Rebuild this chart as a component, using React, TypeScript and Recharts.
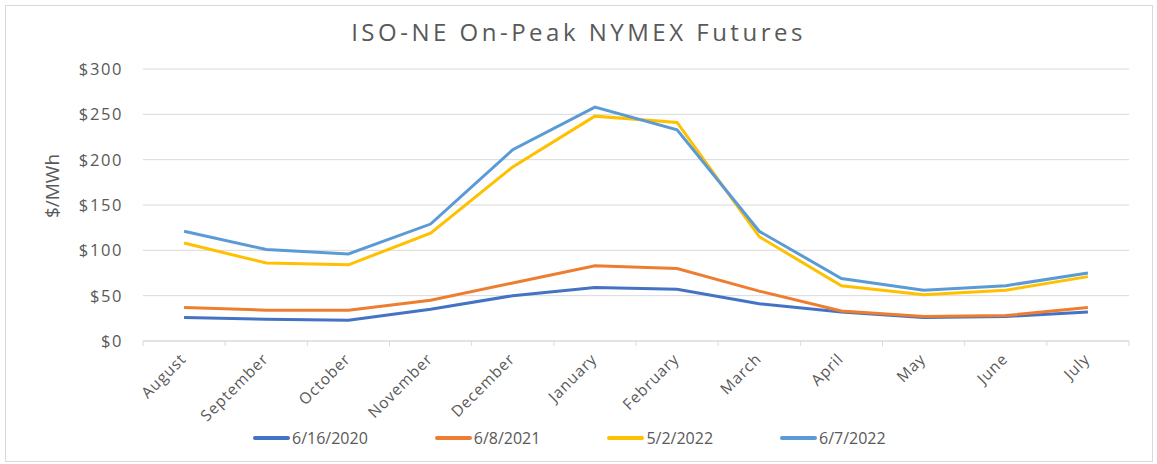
import React from "react";
import { LineChart, Line, XAxis, YAxis, CartesianGrid } from "recharts";

const months = [
  "August", "September", "October", "November", "December", "January",
  "February", "March", "April", "May", "June", "July",
];
const s2020 = [26, 24, 23, 35, 50, 59, 57, 41, 32, 26, 27, 32];
const s2021 = [37, 34, 34, 45, 64, 83, 80, 55, 33, 27, 28, 37];
const s2022May = [108, 86, 84, 119, 192, 248, 241, 115, 61, 51, 56, 71];
const s2022Jun = [121, 101, 96, 129, 211, 258, 233, 121, 69, 56, 61, 75];
const yTicks = [0, 50, 100, 150, 200, 250, 300];

const series = [
  { key: "a", name: "6/16/2020", color: "#4472C4" },
  { key: "b", name: "6/8/2021", color: "#ED7D31" },
  { key: "c", name: "5/2/2022", color: "#FFC000" },
  { key: "d", name: "6/7/2022", color: "#5B9BD5" },
];

const data = months.map((m, i) => ({
  month: m,
  a: s2020[i],
  b: s2021[i],
  c: s2022May[i],
  d: s2022Jun[i],
}));

const FONT = "'Open Sans', sans-serif";
const GRAY = "#595959";
const HALF_BAND = 986 / 12 / 2;

// eslint-disable-next-line @typescript-eslint/no-explicit-any
function MonthTick({ x, y, payload, index }: any) {
  const last = index === months.length - 1;
  return (
    <g>
      <line x1={x - HALF_BAND} y1={y - 8} x2={x - HALF_BAND} y2={y - 3} stroke="#d9d9d9" />
      {last && (
        <line x1={x + HALF_BAND} y1={y - 8} x2={x + HALF_BAND} y2={y - 3} stroke="#d9d9d9" />
      )}
      <text
        x={x + 3}
        y={y + 11}
        textAnchor="end"
        fill={GRAY}
        fontSize={15.5}
        fontFamily={FONT}
        letterSpacing={0.9}
        transform={`rotate(-45, ${x + 3}, ${y + 11})`}
      >
        {payload.value}
      </text>
    </g>
  );
}

export default function App() {
  return (
    <div
      style={{
        position: "absolute",
        left: 0,
        top: 0,
        width: 1157,
        height: 464,
        background: "#fff",
        fontFamily: FONT,
      }}
    >
      <div
        style={{
          position: "absolute",
          left: 5,
          top: 5,
          width: 1146,
          height: 455,
          border: "1px solid #d9d9d9",
        }}
      />
      <div
        style={{
          position: "absolute",
          left: 0,
          width: 1157,
          top: 15,
          textAlign: "center",
          fontSize: 24,
          color: GRAY,
          letterSpacing: 3.5,
        }}
      >
        ISO-NE On-Peak NYMEX Futures
      </div>
      <div
        style={{
          position: "absolute",
          left: 52,
          top: 186,
          transform: "translate(-50%, -50%) rotate(-90deg)",
          fontSize: 19,
          color: GRAY,
          whiteSpace: "nowrap",
        }}
      >
        $/MWh
      </div>
      <div style={{ position: "absolute", left: 0, top: 0 }}>
        <LineChart
          width={1157}
          height={464}
          data={data}
          margin={{ top: 69, right: 28, bottom: 53, left: 0 }}
        >
          <CartesianGrid vertical={false} stroke="#d9d9d9" />
          <XAxis
            dataKey="month"
            interval={0}
            height={70}
            padding={{ left: HALF_BAND, right: HALF_BAND }}
            axisLine={{ stroke: "#d9d9d9" }}
            tickLine={false}
            tick={<MonthTick />}
          />
          <YAxis
            width={143}
            domain={[0, 300]}
            ticks={yTicks}
            axisLine={false}
            tickLine={false}
            tickSize={0}
            tickMargin={20}
            tickFormatter={(v: number) => `$${v}`}
            tick={{ fill: GRAY, fontSize: 16.5, fontFamily: FONT, letterSpacing: 1.6 }}
          />
          {series.map((s) => (
            <Line
              key={s.key}
              dataKey={s.key}
              name={s.name}
              stroke={s.color}
              strokeWidth={3}
              dot={false}
              isAnimationActive={false}
            />
          ))}
        </LineChart>
      </div>
      <div
        style={{
          position: "absolute",
          left: 253,
          top: 427,
          display: "flex",
          gap: 67,
        }}
      >
        {series.map((s) => (
          <div key={s.key} style={{ display: "flex", alignItems: "center" }}>
            <span
              style={{
                display: "inline-block",
                width: 37,
                height: 4,
                borderRadius: 2,
                background: s.color,
                marginRight: 2,
              }}
            />
            <span style={{ fontSize: 16, color: GRAY }}>{s.name}</span>
          </div>
        ))}
      </div>
    </div>
  );
}
